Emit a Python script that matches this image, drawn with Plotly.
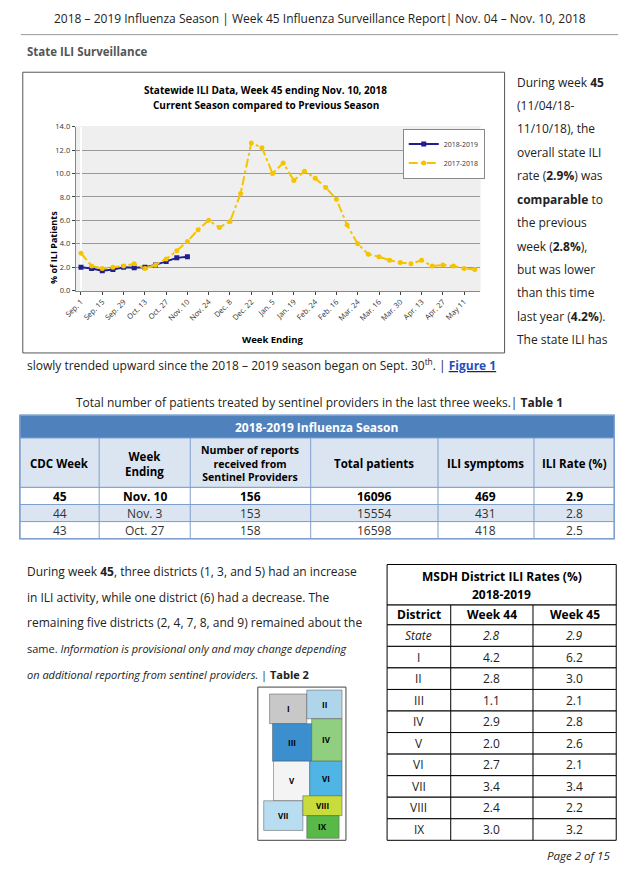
import plotly.graph_objects as go

W, H = 627, 872

week_labels = ["Sep. 1", "Sep. 15", "Sep. 29", "Oct. 13", "Oct. 27", "Nov. 10", "Nov. 24", "Dec. 8",
               "Dec. 22", "Jan. 5", "Jan. 19", "Feb. 24", "Feb. 16", "Mar. 24", "Mar. 16", "Mar. 30",
               "Apr. 13", "Apr. 27", "May 11"]
ili_2017 = [3.2, 2.1, 1.9, 2.0, 2.1, 2.3, 1.9, 2.2, 2.7, 3.4, 4.2, 5.2, 6.0, 5.4, 5.9, 8.3, 12.6, 12.2,
            10.0, 10.9, 9.4, 10.2, 9.6, 8.8, 7.8, 5.6, 4.0, 3.1, 2.9, 2.6, 2.4, 2.3, 2.6, 2.1, 2.2, 2.1, 1.9, 1.8]
ili_2018 = [2.0, 1.9, 1.7, 1.8, 2.0, 1.95, 2.0, 2.2, 2.5, 2.8, 2.9]

t1_header = ["CDC Week", "Week<br>Ending", "Number of reports<br>received from<br>Sentinel Providers",
             "Total patients", "ILI symptoms", "ILI Rate (%)"]
t1_rows = [["45", "Nov. 10", "156", "16096", "469", "2.9"],
           ["44", "Nov. 3", "153", "15554", "431", "2.8"],
           ["43", "Oct. 27", "158", "16598", "418", "2.5"]]

districts = ["State", "I", "II", "III", "IV", "V", "VI", "VII", "VIII", "IX"]
wk44 = ["2.8", "4.2", "2.8", "1.1", "2.9", "2.0", "2.7", "3.4", "2.4", "3.0"]
wk45 = ["2.9", "6.2", "3.0", "2.1", "2.8", "2.6", "2.1", "3.4", "2.2", "3.2"]

FONT = "Open Sans"
px = lambda x: x / W
py = lambda y: 1 - y / H

fig = go.Figure()
xs = list(range(len(ili_2017)))
fig.add_trace(go.Scatter(x=list(range(len(ili_2018))), y=ili_2018, name="2018-2019", mode="lines+markers",
                         line=dict(color="#1f1f8f", width=2), marker=dict(symbol="square", size=5)))
fig.add_trace(go.Scatter(x=xs, y=ili_2017, name="2017-2018", mode="lines+markers",
                         line=dict(color="#f5c400", width=2, dash="dashdot"), marker=dict(size=5)))

shapes, ann = [], []

def rect(x0, y0, x1, y1, fill="rgba(0,0,0,0)", line="#000", lw=1):
    shapes.append(dict(type="rect", xref="paper", yref="paper", x0=px(x0), x1=px(x1), y0=py(y1), y1=py(y0),
                       fillcolor=fill, line=dict(color=line, width=lw), layer="below"))

def text(x, y, s, size=11, color="#222", anchor="center", bold=False, italic=False):
    if bold:
        s = "<b>" + s + "</b>"
    if italic:
        s = "<i>" + s + "</i>"
    ann.append(dict(x=px(x), y=py(y), xref="paper", yref="paper", text=s, showarrow=False, xanchor=anchor,
                    yanchor="middle", font=dict(family=FONT, size=size, color=color)))

# page header
text(313, 14, "2018 – 2019 Influenza Season | Week 45 Influenza Surveillance Report| Nov. 04 – Nov. 10, 2018", 12)
shapes.append(dict(type="line", xref="paper", yref="paper", x0=px(8), x1=px(618), y0=py(30), y1=py(30),
                   line=dict(color="#999", width=1)))
text(12, 47, "State ILI Surveillance", 11.5, "#555", "left", bold=True)

# chart frame
rect(10, 68, 502, 352, fill="#fff", line="#555")
rect(64, 123, 477, 289, fill="#efefef", line="#efefef")
text(258, 86, "Statewide ILI Data, Week 45 ending Nov. 10, 2018", 10, "#000", bold=True)
text(258, 101, "Current Season compared to Previous Season", 10, "#000", bold=True)
text(265, 338, "Week Ending", 9.5, "#000", bold=True)
ann.append(dict(x=px(32), y=py(206), xref="paper", yref="paper", text="<b>% of ILI Patients</b>", textangle=-90,
                showarrow=False, font=dict(family=FONT, size=9, color="#000")))

# side text
side = ["During week <b>45</b>", "(11/04/18-", "11/10/18), the", "overall state ILI", "rate (<b>2.9%</b>) was",
        "<b>comparable</b> to", "the previous", "week (<b>2.8%</b>),", "but was lower", "than this time",
        "last year (<b>4.2%</b>).", "The state ILI has"]
for i, s in enumerate(side):
    text(513, 78 + i * 23.7, s, 12, anchor="left")
text(12, 364, "slowly trended upward since the 2018 – 2019 season began on Sept. 30<sup>th</sup>. | "
     "<b><u><span style='color:#1f4fbf'>Figure 1</span></u></b>", 12, anchor="left")

# table 1
text(313, 402, "Total number of patients treated by sentinel providers in the last three weeks.| <b>Table 1</b>", 12)
cols = [7, 88, 181, 304, 434, 532, 614]
rect(7, 415, 614, 438, fill="#4f81bd", line="#4f81bd")
text(310, 427, "2018-2019 Influenza Season", 12, "#fff", bold=True)
rect(7, 438, 614, 488, fill="#dbe5f1", line="#7f9fcf")
for j, h in enumerate(t1_header):
    text((cols[j] + cols[j + 1]) / 2, 464, h, 11.5 if j != 2 else 10.5, "#000", bold=True)
for i, row in enumerate(t1_rows):
    y0 = 488 + i * 17.3
    rect(7, y0, 614, y0 + 17.3, fill="#fff" if i != 1 else "#dbe5f1", line="#7f9fcf")
    for j, v in enumerate(row):
        text((cols[j] + cols[j + 1]) / 2, y0 + 9, v, 12, "#000" if i == 0 else "#333", bold=(i == 0))
for c in cols[1:-1]:
    shapes.append(dict(type="line", xref="paper", yref="paper", x0=px(c), x1=px(c), y0=py(540), y1=py(438),
                       line=dict(color="#7f9fcf", width=1)))
rect(7, 415, 614, 540, line="#7f9fcf", lw=1.5)

# paragraph
para = ["During week <b>45</b>, three districts (1, 3, and 5) had an increase",
        "in ILI activity, while one district (6) had a decrease. The",
        "remaining five districts (2, 4, 7, 8, and 9) remained about the",
        "same. <i>Information is provisional only and may change depending</i>",
        "<i>on additional reporting from sentinel providers.</i> | <b>Table 2</b>"]
for i, s in enumerate(para):
    text(12, 573 + i * 26, s, 12 if i < 3 else 11, anchor="left")

# simplified district map
rect(250, 690, 340, 845, fill="#fff", line="#444")
regions = [(262, 697, 300, 727, "#c8c8c8", "I"), (300, 693, 336, 722, "#aed5ea", "II"),
           (265, 727, 305, 765, "#3b8fcf", "III"), (305, 722, 336, 765, "#8fcf7f", "IV"),
           (266, 765, 303, 805, "#f4f4f4", "V"), (303, 765, 336, 800, "#50b4e4", "VI"),
           (256, 805, 296, 835, "#b8dcf0", "VII"), (296, 800, 336, 820, "#c8dc3c", "VIII"),
           (300, 820, 333, 843, "#58b848", "IX")]
for x0, y0, x1, y1, c, lab in regions:
    rect(x0, y0, x1, y1, fill=c, line="#555", lw=0.5)
    text((x0 + x1) / 2, (y0 + y1) / 2, lab, 8, "#000", bold=True)

# table 2
c2 = [382, 447, 531, 616]
rect(382, 566, 616, 607, fill="#fff", line="#000")
text(499, 578, "MSDH District ILI Rates (%)", 12, "#000", bold=True)
text(499, 596, "2018-2019", 12, "#000", bold=True)
rect(382, 607, 616, 627, fill="#fff", line="#000")
for j, h in enumerate(["District", "Week 44", "Week 45"]):
    text((c2[j] + c2[j + 1]) / 2, 617, h, 12, "#000", bold=True)
rh = (845 - 627) / len(districts)
for i in range(len(districts)):
    y0 = 627 + i * rh
    rect(382, y0, 616, y0 + rh, fill="#fff", line="#000")
    it = i == 0
    for j, v in enumerate([districts[i], wk44[i], wk45[i]]):
        text((c2[j] + c2[j + 1]) / 2, y0 + rh / 2, v, 12, "#222", italic=it)
for c in c2[1:-1]:
    shapes.append(dict(type="line", xref="paper", yref="paper", x0=px(c), x1=px(c), y0=py(845), y1=py(607),
                       line=dict(color="#000", width=1)))

text(612, 860, "<i>Page 2 of 15</i>", 11.5, "#222", anchor="right")

fig.update_layout(
    width=W, height=H, margin=dict(l=0, r=0, t=0, b=0), paper_bgcolor="#fff", plot_bgcolor="rgba(0,0,0,0)",
    shapes=shapes, annotations=ann, showlegend=True,
    legend=dict(x=px(398), y=py(125), xanchor="left", yanchor="top", bgcolor="#fff", bordercolor="#888",
                borderwidth=1, font=dict(family=FONT, size=7, color="#333"), itemwidth=30),
    xaxis=dict(domain=[px(64), px(477)], range=[-0.5, 37.5], tickvals=xs[::2], ticktext=week_labels,
               tickangle=-45, tickfont=dict(family=FONT, size=7.5, color="#333"), showgrid=False,
               ticks="outside", ticklen=3, linecolor="#888", showline=True),
    yaxis=dict(domain=[py(289), py(123)], range=[0, 14], dtick=2, tickformat=".1f", gridcolor="#999",
               tickfont=dict(family=FONT, size=7.5, color="#333"), showline=True, linecolor="#888",
               ticks="outside", ticklen=3, zeroline=False),
)
fig.write_html("out.html", config={"displayModeBar": False},
               post_script="document.body.style.margin='0';document.body.style.overflow='hidden';"
                           "var d=document.getElementById('{plot_id}');d.style.position='fixed';"
                           "d.style.left='0px';d.style.top='0px';")
